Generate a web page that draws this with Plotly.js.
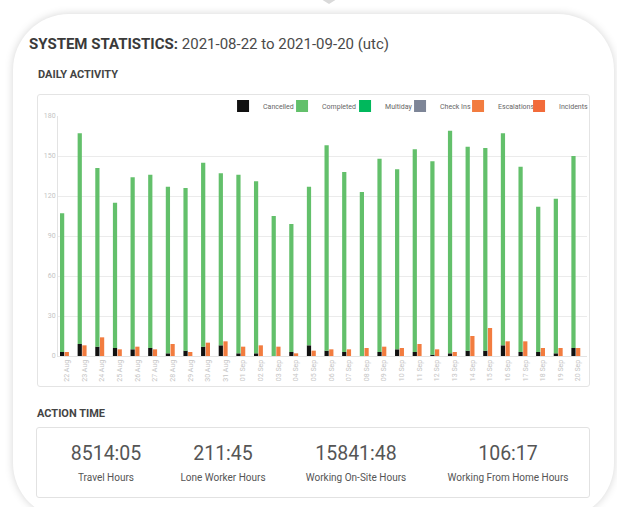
<!DOCTYPE html>
<html>
<head>
<meta charset="utf-8">
<script src="https://cdn.plot.ly/plotly-3.0.1.min.js"></script>
<style>
html,body{margin:0;padding:0;background:#ffffff;width:617px;height:507px;overflow:hidden;font-family:Roboto,"Open Sans",sans-serif;}
#pointer{position:absolute;left:321px;top:-1px;width:0;height:0;border-left:8px solid transparent;border-right:8px solid transparent;border-top:5px solid #d9d9d9;}
#card{position:absolute;left:13px;top:14px;width:601px;height:505px;background:#fff;border-radius:56px;box-shadow:0 0 9px rgba(0,0,0,0.17);}
.abs{position:absolute;white-space:nowrap;}
#title{left:29px;top:37px;font-size:15px;line-height:15px;color:#4a4a4a;}
#title b{color:#3a3a3a;font-weight:700;}
.section{font-size:11px;line-height:11px;font-weight:700;color:#444;}
#chartbox{position:absolute;left:37px;top:94px;width:551px;height:291px;border:1px solid #e4e4e4;border-radius:3px;}
#chart{position:absolute;left:37px;top:94px;width:553px;height:293px;}
#actbox{position:absolute;left:36px;top:427px;width:552px;height:69px;border:1px solid #e2e2e2;border-radius:3px;}
.val{font-size:19.5px;line-height:19.5px;color:#555;transform:translateX(-50%);}
.lab{font-size:10px;line-height:10px;color:#555;transform:translateX(-50%);}
</style>
</head>
<body>
<div id="pointer"></div>
<div id="card"></div>
<div id="title" class="abs"><b>SYSTEM STATISTICS:</b> 2021-08-22 to 2021-09-20 (utc)</div>
<div class="abs section" style="left:38px;top:69px;">DAILY ACTIVITY</div>
<div id="chartbox"></div>
<div id="chart"></div>
<div class="abs section" style="left:37px;top:408px;">ACTION TIME</div>
<div id="actbox"></div>
<div id="act"></div>
<script>
// ---- data ----
const days = ['22 Aug','23 Aug','24 Aug','25 Aug','26 Aug','27 Aug','28 Aug','29 Aug','30 Aug','31 Aug',
              '01 Sep','02 Sep','03 Sep','04 Sep','05 Sep','06 Sep','07 Sep','08 Sep','09 Sep','10 Sep',
              '11 Sep','12 Sep','13 Sep','14 Sep','15 Sep','16 Sep','17 Sep','18 Sep','19 Sep','20 Sep'];
const cancelled   = [3,9,7,6,5,6,2,4,7,8, 2,2,0,3,8,4,3,0,3,5, 3,1,2,4,4,8,3,3,2,6];
const completed   = [104,158,134,109,129,130,125,122,138,129, 134,129,105,96,119,154,135,123,145,135, 152,145,167,153,152,159,139,109,116,144];
const multiday    = [0,0,0,0,0,0,0,0,0,0, 0,0,0,0,0,0,0,0,0,0, 0,0,0,0,0,0,0,0,0,0];
const checkIns    = [0,0,0,0,0,0,0,0,0,0, 0,0,0,0,0,0,0,0,0,0, 0,0,0,0,0,0,0,0,0,0];
const escalations = [3,8,14,5,7,5,9,3,10,11, 7,8,7,2,4,5,5,6,7,6, 9,5,3,15,21,11,11,6,6,6];
const incidents   = [0,0,0,0,0,0,0,0,0,0, 0,0,0,0,0,0,0,0,0,0, 0,0,0,0,0,0,0,0,0,0];
const yTicks = [0,30,60,90,120,150,180];

const actionValues = ['8514:05','211:45','15841:48','106:17'];
const actionLabels = ['Travel Hours','Lone Worker Hours','Working On-Site Hours','Working From Home Hours'];

// ---- action time panel ----
const colCenters = [106,223,356,508];
const act = document.getElementById('act');
actionValues.forEach((v,i)=>{
  const a = document.createElement('div'); a.className='abs val'; a.style.left=colCenters[i]+'px'; a.style.top='444px'; a.textContent=v; act.appendChild(a);
  const b = document.createElement('div'); b.className='abs lab'; b.style.left=colCenters[i]+'px'; b.style.top='473px'; b.textContent=actionLabels[i]; act.appendChild(b);
});

// ---- chart ----
const base2 = cancelled.map((c,i)=>c+completed[i]);
const common = {type:'bar', x:days, hoverinfo:'skip'};
const data = [
  Object.assign({}, common, {name:'Cancelled', y:cancelled, offsetgroup:'a', legendrank:1, legendwidth:14, marker:{color:'#111111',line:{width:0}}}),
  Object.assign({}, common, {name:'Completed', y:completed, base:cancelled, offsetgroup:'a', legendrank:2, legendwidth:18, marker:{color:'#63c06b',line:{width:0}}}),
  Object.assign({}, common, {name:'Check Ins', y:checkIns, offsetgroup:'b', legendrank:4, legendwidth:13, marker:{color:'#7d8597',line:{width:0}}}),
  Object.assign({}, common, {name:'Escalations', y:escalations, offsetgroup:'b', legendrank:5, legendwidth:16, marker:{color:'#f27c3f',line:{width:0}}}),
  Object.assign({}, common, {name:'Incidents', y:incidents, base:escalations, offsetgroup:'b', legendrank:6, legendwidth:28, marker:{color:'#f26b3a',line:{width:0}}}),
  Object.assign({}, common, {name:'Multiday', y:multiday, base:base2, offsetgroup:'c', legendrank:3, legendwidth:10, marker:{color:'#00b85c',line:{width:0}}})
];
const layout = {
  width:553, height:293,
  margin:{l:21, r:3, t:22, b:31, pad:0, autoexpand:false},
  paper_bgcolor:'rgba(0,0,0,0)', plot_bgcolor:'rgba(0,0,0,0)',
  font:{family:'Roboto, sans-serif', size:7, color:'#666'},
  barmode:'group', bargap:0.2, bargroupgap:0.1,
  showlegend:true,
  legend:{orientation:'h', x:0.312, xanchor:'left', y:1.042, yanchor:'middle', font:{size:7, color:'#666'}, bgcolor:'rgba(0,0,0,0)', itemwidth:30, traceorder:'normal'},
  xaxis:{type:'category', tickangle:-90, tickfont:{size:7, color:'#c4c4c4'}, showgrid:false, showline:true, linecolor:'#e3e3e3', linewidth:1, ticks:'', automargin:false, fixedrange:true},
  yaxis:{range:[0,180], tickmode:'array', tickvals:yTicks, ticktext:yTicks.map(String), tickfont:{size:7, color:'#c4c4c4'}, gridcolor:'#ebebeb', gridwidth:1, showline:true, linecolor:'#e3e3e3', zeroline:false, ticks:'', automargin:false, fixedrange:true}
};
Plotly.newPlot('chart', data, layout, {displayModeBar:false, staticPlot:true});
</script>
</body>
</html>
